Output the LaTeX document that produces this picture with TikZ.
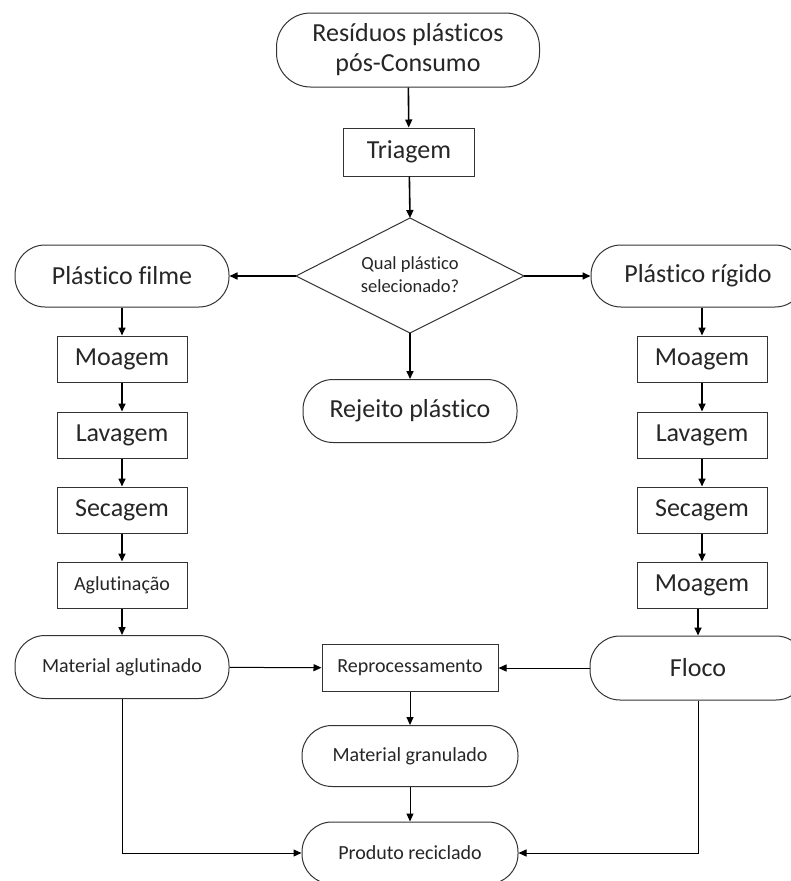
\documentclass[tikz,border=0pt]{standalone}
\usepackage{fontspec}
\setmainfont{Carlito}[Ligatures=NoCommon]
\usetikzlibrary{arrows.meta}
\begin{document}
\begin{tikzpicture}[x=1pt,y=1pt,
  every node/.style={font=\fontsize{26}{30}\selectfont, text=black!85},
  term/.style={draw=black!80, line width=1pt, rounded corners=30pt, minimum width=214pt, minimum height=62pt, inner sep=0pt, align=center},
  proc/.style={draw=black!80, line width=1pt, minimum width=130pt, minimum height=46pt, inner sep=0pt},
  small/.style={font=\fontsize{20}{24}\selectfont},
  arr/.style={line width=1.6pt, -{Triangle[length=8pt,width=7pt]}},
  thinarr/.style={line width=1pt, -{Triangle[length=8pt,width=7pt]}}
]
\useasboundingbox (0,0) rectangle (791,-881);
\fill[white] (0,0) rectangle (791,-881);
% top
\node[term, minimum width=263pt, minimum height=74pt, rounded corners=34pt] (res) at (408,-50) {Resíduos plásticos\\pós-Consumo};
\node[proc, minimum width=131pt, minimum height=48pt] (tri) at (409,-152) {Triagem};
% diamond
\coordinate (dT) at (410,-218);
\coordinate (dR) at (524,-276);
\coordinate (dB) at (410,-333);
\coordinate (dL) at (296,-276);
\draw[draw=black!80, line width=1pt] (dT) -- (dR) -- (dB) -- (dL) -- cycle;
\node[font=\fontsize{18.5}{23}\selectfont, align=center] (dq) at (410,-275) {Qual plástico\\selecionado?};
% branches
\node[term] (filme) at (122,-276) {Plástico filme};
\node[term] (rigido) at (698,-276) {Plástico rígido};
\node[term, minimum height=63pt] (rej) at (410,-411) {Rejeito plástico};
% left column
\node[proc] (l1) at (122,-359) {Moagem};
\node[proc] (l2) at (122,-435) {Lavagem};
\node[proc] (l3) at (122,-510) {Secagem};
\node[proc, small] (l4) at (122,-585) {Aglutinação};
% right column
\node[proc] (r1) at (702,-359) {Moagem};
\node[proc] (r2) at (702,-435) {Lavagem};
\node[proc] (r3) at (702,-510) {Secagem};
\node[proc] (r4) at (702,-585) {Moagem};
% bottom
\node[term, small, minimum height=63pt] (aglu) at (122,-667) {Material aglutinado};
\node[proc, small, minimum width=176pt, minimum height=47pt] (rep) at (410,-668) {Reprocessamento};
\node[term, minimum width=216pt, minimum height=64pt] (floco) at (698,-668) {Floco};
\node[term, small, minimum width=216pt, minimum height=61pt] (gran) at (410,-756) {Material granulado};
\node[term, small, minimum width=216pt] (prod) at (410,-853) {Produto reciclado};
% connectors
\draw[arr] (res) -- (tri);
\draw[arr] (tri) -- (dT);
\draw[arr] (dL) -- (filme);
\draw[arr] (dR) -- (rigido);
\draw[arr] (dB) -- (rej);
\draw[arr] (filme) -- (l1);
\draw[arr] (l1) -- (l2);
\draw[arr] (l2) -- (l3);
\draw[arr] (l3) -- (l4);
\draw[arr] (l4) -- (aglu);
\draw[arr] (r1.north |- rigido.south) -- (r1);
\draw[arr] (r1) -- (r2);
\draw[arr] (r2) -- (r3);
\draw[arr] (r3) -- (r4);
\draw[arr] (floco.north |- r4.south) -- (floco);
\draw[thinarr] (aglu) -- (rep);
\draw[thinarr] (floco) -- (rep);
\draw[thinarr] (rep) -- (gran);
\draw[thinarr] (gran) -- (prod);
\draw[thinarr] (aglu.south) |- (prod.west);
\draw[thinarr] (floco.south) |- (prod.east);
\end{tikzpicture}
\end{document}
